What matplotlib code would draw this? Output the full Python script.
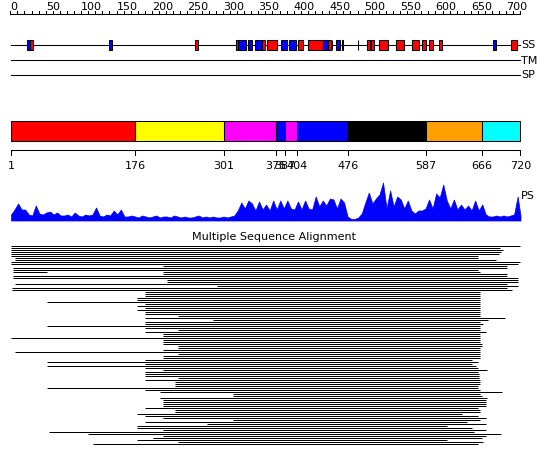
import matplotlib
matplotlib.use("Agg")
import matplotlib.pyplot as plt
from matplotlib.patches import Rectangle

# canvas in pixels, residue 1 sits at x=11 px, 0.7086 px per residue
W, H = 550, 465
X0, PX = 11, 0.7086
SEQ_LEN = 720

# secondary structure elements (H = helix, E = strand, C = marker)
ss_start = [23, 28, 139, 260, 318, 322, 335, 346, 355, 362, 382, 394, 406, 420, 442, 448,
            454, 460, 468, 490, 503, 509, 520, 544, 567, 581, 591, 605, 681, 707]
ss_end = [28, 32, 143, 265, 322, 332, 341, 355, 360, 376, 391, 403, 413, 442, 448, 452,
          454, 465, 470, 490, 507, 513, 533, 555, 577, 586, 597, 609, 685, 715]
ss_type = ["E", "H", "E", "H", "H", "E", "E", "E", "H", "H", "E", "E", "H", "H", "E", "H",
           "C", "E", "H", "C", "H", "H", "H", "H", "H", "H", "H", "H", "E", "H"]

# domain boundaries and colours
domain_bounds = [1, 176, 301, 375, 387, 404, 476, 587, 666, 720]
domain_colors = ["#ff0000", "#ffff00", "#ff00ff", "#0000ff", "#ff00ff", "#0000ff",
                 "#000000", "#ffa000", "#00ffff"]

# PS profile, one value every 5 residues (last one at 720)
ps_pos = list(range(1, 721, 5)) + [720]
ps_score = [6, 11, 17, 11, 11, 6, 5, 15, 7, 6,
            8, 9, 6, 8, 5, 5, 6, 4, 8, 5,
            4, 6, 5, 6, 13, 5, 4, 6, 5, 10,
            6, 11, 4, 4, 5,
            4, 3, 5, 4, 3, 4, 5, 3, 4, 4, 3, 5, 4, 3, 4, 3, 3, 4, 5, 3, 4, 3, 4, 3, 3, 4, 3, 4,
            5, 10, 18, 12, 20, 17, 10, 19, 11, 16, 10,
            20, 11, 20, 12, 20, 12, 11, 19, 11, 20, 12, 11, 24, 14, 20, 15, 22, 21, 12, 22, 18,
            4, 1.5, 1.5, 3, 7, 18, 28, 17, 22, 26,
            38, 12, 30, 14, 24, 21, 12, 20, 10, 7, 10, 10, 12,
            21, 12, 27, 23, 36, 20, 12, 21, 11, 16, 11, 15, 10, 20, 10, 16,
            6, 4, 4, 5, 4, 5, 4, 5, 6, 24, 5]

# multiple sequence alignment: one entry per aligned segment
msa_row = list(range(0, 14)) + [13] + list(range(14, 100))
msa_start = [1, 1, 1, 1, 1, 1, 7, 7, 1, 1, 215, 4, 4, 4, 215, 215, 4, 4, 221, 221,
             7, 292, 2, 2, 190, 190, 190, 179, 179, 52, 190, 179, 190, 179, 190, 190,
             237, 190, 286, 190, 190, 52, 190, 237, 190, 215, 215, 1, 215,
             215, 215, 237, 237, 215, 7, 237, 215, 215, 190, 52, 190, 52, 190, 215,
             190, 190, 190, 237, 190, 232, 232, 232, 52, 190, 211, 314, 314, 211, 215,
             215, 215, 215, 190, 232, 232, 179, 190, 215, 314, 190, 278, 179, 179, 215,
             55, 110, 215, 201, 179, 237, 117]
msa_end = [720, 691, 695, 693, 690, 660, 660, 686, 720, 716, 701, 701, 660, 52, 663, 701,
           701, 716, 716, 716, 701, 716, 701, 708, 663, 663, 663, 663, 663, 663, 663,
           663, 663, 663, 663, 663, 663, 698, 674, 663, 667, 663, 663, 663, 672, 663,
           663, 663, 663,
           663, 665, 665, 663, 663, 663, 663, 663, 663, 652, 660, 652, 657, 660, 673,
           660, 661, 661, 661, 663, 663, 663, 660, 660, 663, 694, 663, 665, 673, 672,
           672, 672, 672, 660, 663, 663, 637, 660, 672, 663, 645, 672, 616, 652, 672,
           655, 693, 672, 665, 616, 667, 660]

ss_colors = {"H": "#ff0000", "E": "#0000ff", "C": "#000000"}

plt.rcParams["font.family"] = "DejaVu Sans"
fs = 8

fig = plt.figure(figsize=(W / 100, H / 100), dpi=100)
ax = fig.add_axes([0, 0, 1, 1])
xlim = (1 - X0 / PX, 1 + (W - X0) / PX)
ax.set_xlim(xlim)
ax.set_ylim(H, 0)
ax.axis("off")

# ruler
ax.plot([0, SEQ_LEN], [14.5, 14.5], color="k", lw=0.75)
for t in range(0, SEQ_LEN + 1, 10):
    ax.plot([t, t], [11.5, 14.5], color="k", lw=0.75)
for t in range(0, 701, 50):
    ax.text(t, 10.5, str(t), ha="left", va="baseline", fontsize=fs)

# SS / TM / SP tracks
for y, lab in [(45.5, "SS"), (60.5, "TM"), (75.5, "SP")]:
    ax.plot([1, SEQ_LEN], [y, y], color="k", lw=0.75)
    ax.text(SEQ_LEN + 0.5, y, lab, ha="left", va="center", fontsize=fs)
for s, e, t in zip(ss_start, ss_end, ss_type):
    ax.add_patch(Rectangle((s, 40.5), e - s, 10, facecolor=ss_colors[t],
                           edgecolor="k", lw=0.75, zorder=3))

# domain bar
for i, c in enumerate(domain_colors):
    s, e = domain_bounds[i], domain_bounds[i + 1]
    ax.add_patch(Rectangle((s, 120.5), e - s, 20, facecolor=c, edgecolor="k", lw=0.75))
ax.plot([1, SEQ_LEN], [150.5, 150.5], color="k", lw=0.75)
for b in domain_bounds:
    ax.plot([b, b], [150.5, 155.5], color="k", lw=0.75)
    ax.text(b, 165.5, str(b), ha="center", va="center", fontsize=fs)

# PS profile
ps_ax = fig.add_axes([0, (H - 220.5) / H, 1, 40 / H])
ps_ax.set_xlim(xlim)
ps_ax.set_ylim(0, 40)
ps_ax.axis("off")
ps_ax.fill_between(ps_pos, ps_score, 0, color="#0000ff", lw=0.5)
ax.text(SEQ_LEN + 0.5, 196, "PS", ha="left", va="center", fontsize=fs)

# multiple sequence alignment
ax.text(371.5, 236.5, "Multiple Sequence Alignment", ha="center", va="center", fontsize=fs)
ys = [245.5 + 2 * r for r in msa_row]
ax.hlines(ys, msa_start, msa_end, colors="k", lw=0.72)

fig.savefig("out.png", dpi=100)
